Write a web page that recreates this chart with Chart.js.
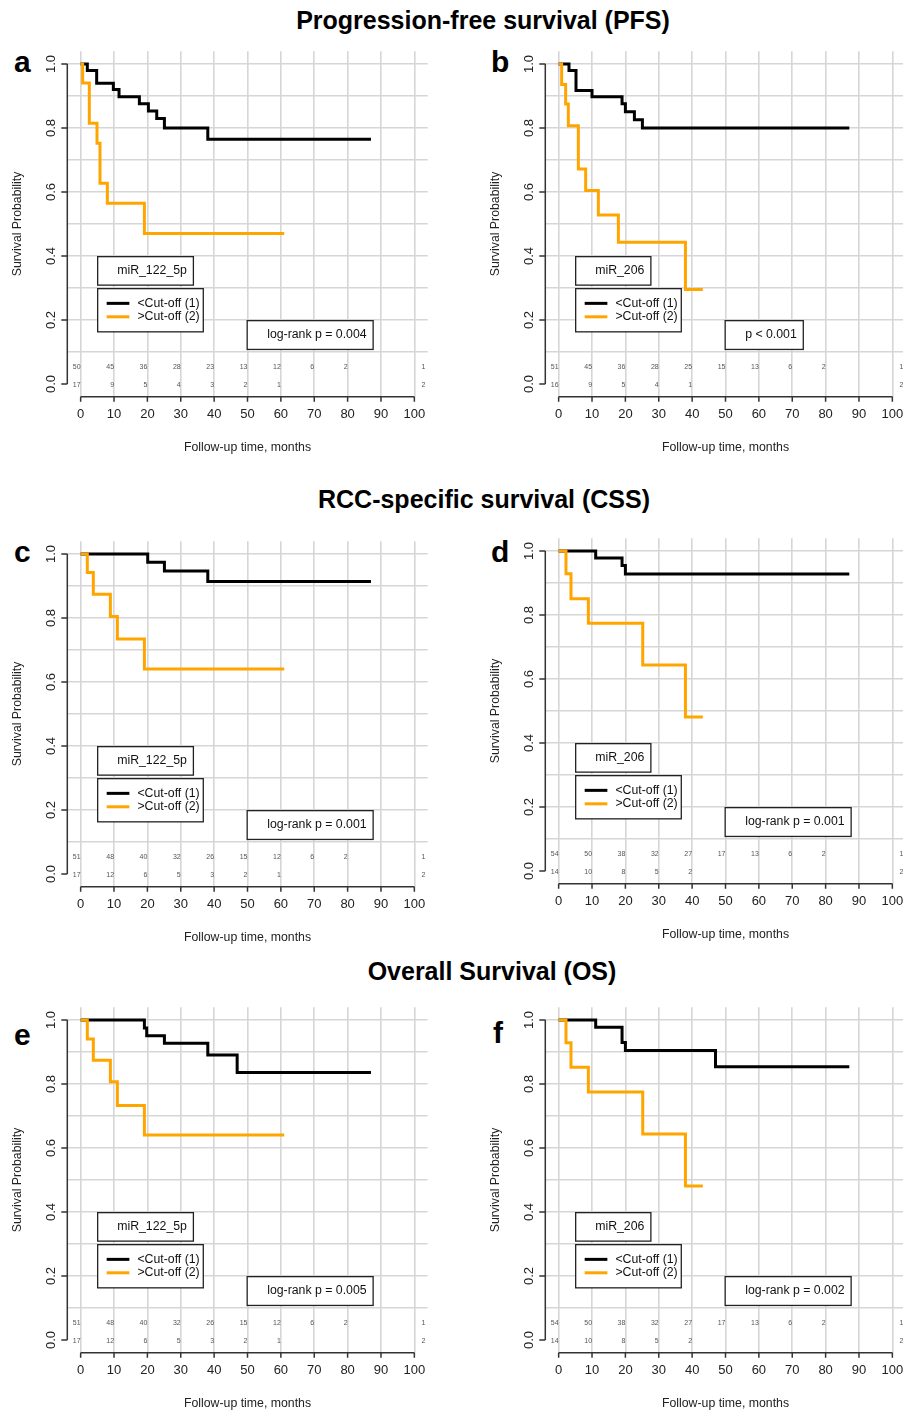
<!DOCTYPE html>
<html>
<head>
<meta charset="utf-8">
<script src="https://cdn.jsdelivr.net/npm/chart.js@4.4.1/dist/chart.umd.min.js"></script>
<style>
html, body { margin: 0; padding: 0; width: 903px; height: 1411px; overflow: hidden; background: #fff; }
body { position: relative; font-family: "Liberation Sans", Arial, sans-serif; color: #000; }
canvas { position: absolute; }
.title { position: absolute; font-weight: bold; font-size: 25px; line-height: 25px; white-space: nowrap; transform: translateX(-50%); }
.tag { position: absolute; font-weight: bold; font-size: 30px; line-height: 30px; }
</style>
</head>
<body>
<div class="title" style="left:483px; top:7.5px">Progression-free survival (PFS)</div>
<div class="title" style="left:484px; top:487px">RCC-specific survival (CSS)</div>
<div class="title" style="left:492px; top:959px">Overall Survival (OS)</div>

<div class="tag" style="left:14px; top:47px">a</div>
<div class="tag" style="left:491px; top:47px">b</div>
<div class="tag" style="left:14px; top:537px">c</div>
<div class="tag" style="left:491px; top:537px">d</div>
<div class="tag" style="left:14px; top:1020px">e</div>
<div class="tag" style="left:493px; top:1018px">f</div>

<canvas id="chartA" width="470" height="430" style="left:0px; top:40px"></canvas>
<canvas id="chartB" width="470" height="430" style="left:478px; top:40px"></canvas>
<canvas id="chartC" width="470" height="430" style="left:0px; top:530px"></canvas>
<canvas id="chartD" width="470" height="430" style="left:478px; top:527px"></canvas>
<canvas id="chartE" width="470" height="430" style="left:0px; top:996px"></canvas>
<canvas id="chartF" width="470" height="430" style="left:478px; top:996px"></canvas>

<script>
// ---- values ----
const xTicks = [0, 10, 20, 30, 40, 50, 60, 70, 80, 90, 100];
const yTicks = [0, 0.2, 0.4, 0.6, 0.8, 1.0];
const yGrid = [0.1, 0.2, 0.3, 0.4, 0.5, 0.6, 0.7, 0.8, 0.9, 1.0];
const riskTimes = [0, 10, 20, 30, 40, 50, 60, 70, 80, 90, 103.3];

// a: PFS, miR_122_5p
const aLowT = [0, 2, 4.8, 9.8, 11.5, 17.6, 20.3, 22.8, 25.1, 38.1, 87];
const aLowS = [1, 0.98, 0.94, 0.92, 0.898, 0.876, 0.853, 0.83, 0.8, 0.765, 0.765];
const aHighT = [0, 0.6, 2.6, 4.9, 5.8, 8, 19.1, 61];
const aHighS = [1, 0.941, 0.815, 0.752, 0.627, 0.565, 0.47, 0.47];
const aRiskLow = [50, 45, 36, 28, 23, 13, 12, 6, 2, null, 1];
const aRiskHigh = [17, 9, 5, 4, 3, 2, 1, null, null, null, 2];

// b: PFS, miR_206
const bLowT = [0, 3.1, 5.2, 10, 19, 20, 22.7, 25.1, 87.1];
const bLowS = [1, 0.98, 0.917, 0.898, 0.876, 0.851, 0.826, 0.8, 0.8];
const bHighT = [0, 0.9, 2.1, 2.9, 5.9, 8.1, 11.9, 17.9, 38, 43.2];
const bHighS = [1, 0.936, 0.875, 0.807, 0.672, 0.605, 0.528, 0.443, 0.295, 0.295];
const bRiskLow = [51, 45, 36, 28, 25, 15, 13, 6, 2, null, 1];
const bRiskHigh = [16, 9, 5, 4, 1, null, null, null, null, null, 2];

// c: CSS, miR_122_5p
const cLowT = [0, 20.1, 25.1, 38.1, 87];
const cLowS = [1, 0.974, 0.947, 0.914, 0.914];
const cHighT = [0, 2, 3.8, 8.9, 11, 19.1, 61];
const cHighS = [1, 0.942, 0.874, 0.805, 0.734, 0.641, 0.641];
const cRiskLow = [51, 48, 40, 32, 26, 15, 12, 6, 2, null, 1];
const cRiskHigh = [17, 12, 6, 5, 3, 2, 1, null, null, null, 2];

// d: CSS, miR_206
const dLowT = [0, 11.1, 19, 20, 87.1];
const dLowS = [1, 0.978, 0.955, 0.928, 0.928];
const dHighT = [0, 2.2, 3.7, 8.9, 25.2, 38, 43.2];
const dHighS = [1, 0.929, 0.851, 0.774, 0.644, 0.481, 0.481];
const dRiskLow = [54, 50, 38, 32, 27, 17, 13, 6, 2, null, 1];
const dRiskHigh = [14, 10, 8, 5, 2, null, null, null, null, null, 2];

// e: OS, miR_122_5p
const eLowT = [0, 19.1, 19.8, 25.1, 38.1, 46.9, 87];
const eLowS = [1, 0.975, 0.951, 0.927, 0.891, 0.836, 0.836];
const eHighT = [0, 2, 3.8, 8.9, 11, 19.1, 61];
const eHighS = [1, 0.941, 0.874, 0.807, 0.733, 0.641, 0.641];
const eRiskLow = [51, 48, 40, 32, 26, 15, 12, 6, 2, null, 1];
const eRiskHigh = [17, 12, 6, 5, 3, 2, 1, null, null, null, 2];

// f: OS, miR_206
const fLowT = [0, 11.1, 19, 20, 47, 87.1];
const fLowS = [1, 0.977, 0.93, 0.905, 0.854, 0.854];
const fHighT = [0, 2.2, 3.7, 8.9, 25.2, 38, 43.2];
const fHighS = [1, 0.929, 0.852, 0.775, 0.644, 0.481, 0.481];
const fRiskLow = [54, 50, 38, 32, 27, 17, 13, 6, 2, null, 1];
const fRiskHigh = [14, 10, 8, 5, 2, null, null, null, null, null, 2];

const groupLabels = ['<Cut-off (1)', '>Cut-off (2)'];
const LOW_COLOR = '#000000';
const HIGH_COLOR = '#FFA500';
const FONT = '"Liberation Sans", Arial, sans-serif';

const panels = [
    { id: 'chartA', marker: 'miR_122_5p', pText: 'log-rank p = 0.004', lowT: aLowT, lowS: aLowS, highT: aHighT, highS: aHighS, riskLow: aRiskLow, riskHigh: aRiskHigh },
    { id: 'chartB', marker: 'miR_206', pText: 'p < 0.001', lowT: bLowT, lowS: bLowS, highT: bHighT, highS: bHighS, riskLow: bRiskLow, riskHigh: bRiskHigh },
    { id: 'chartC', marker: 'miR_122_5p', pText: 'log-rank p = 0.001', lowT: cLowT, lowS: cLowS, highT: cHighT, highS: cHighS, riskLow: cRiskLow, riskHigh: cRiskHigh },
    { id: 'chartD', marker: 'miR_206', pText: 'log-rank p = 0.001', lowT: dLowT, lowS: dLowS, highT: dHighT, highS: dHighS, riskLow: dRiskLow, riskHigh: dRiskHigh },
    { id: 'chartE', marker: 'miR_122_5p', pText: 'log-rank p = 0.005', lowT: eLowT, lowS: eLowS, highT: eHighT, highS: eHighS, riskLow: eRiskLow, riskHigh: eRiskHigh },
    { id: 'chartF', marker: 'miR_206', pText: 'log-rank p = 0.002', lowT: fLowT, lowS: fLowS, highT: fHighT, highS: fHighS, riskLow: fRiskLow, riskHigh: fRiskHigh }
];

function toPoints(times, surv) {
    return times.map((t, i) => ({ x: t, y: surv[i] }));
}

function drawBox(ctx, l, t, r, b) {
    ctx.fillStyle = '#fff';
    ctx.fillRect(l, t, r - l, b - t);
    ctx.strokeStyle = '#222';
    ctx.lineWidth = 1.3;
    ctx.strokeRect(l, t, r - l, b - t);
}

// R-style axes, legend boxes and the numbers-at-risk table
function makeDecor(p) {
    return {
        id: 'kmDecor',
        afterDraw(chart) {
            const ctx = chart.ctx;
            const area = chart.chartArea;
            const X = v => chart.scales.x.getPixelForValue(v);
            const Y = v => chart.scales.y.getPixelForValue(v);
            ctx.save();

            // axes
            ctx.strokeStyle = '#333';
            ctx.lineWidth = 1.5;
            ctx.beginPath();
            ctx.moveTo(area.left, Y(0));
            ctx.lineTo(area.left, Y(1));
            yTicks.forEach(v => { ctx.moveTo(area.left, Y(v)); ctx.lineTo(area.left - 6, Y(v)); });
            ctx.moveTo(X(0), area.bottom);
            ctx.lineTo(X(100), area.bottom);
            xTicks.forEach(v => { ctx.moveTo(X(v), area.bottom); ctx.lineTo(X(v), area.bottom + 5); });
            ctx.stroke();

            // tick labels
            ctx.fillStyle = '#222';
            ctx.font = '13px ' + FONT;
            ctx.textAlign = 'center';
            ctx.textBaseline = 'middle';
            xTicks.forEach(v => ctx.fillText(String(v), X(v), area.bottom + 18));
            yTicks.forEach(v => {
                ctx.save();
                ctx.translate(area.left - 16, Y(v));
                ctx.rotate(-Math.PI / 2);
                ctx.fillText(v.toFixed(1), 0, 0);
                ctx.restore();
            });

            // axis titles
            ctx.font = '12.3px ' + FONT;
            ctx.fillText('Follow-up time, months', X(50), area.bottom + 51);
            ctx.save();
            ctx.translate(area.left - 50, Y(0.5));
            ctx.rotate(-Math.PI / 2);
            ctx.fillText('Survival Probability', 0, 0);
            ctx.restore();

            // marker name box
            ctx.textAlign = 'left';
            let l = X(5.1), t = Y(0.398), b = Y(0.309);
            let w = ctx.measureText(p.marker).width;
            drawBox(ctx, l, t, l + w + 26, b);
            ctx.fillStyle = '#111';
            ctx.fillText(p.marker, l + 19.5, (t + b) / 2);

            // group legend
            drawBox(ctx, X(5.1), Y(0.298), X(36.75), Y(0.163));
            [[0.252, LOW_COLOR], [0.21, HIGH_COLOR]].forEach(([v, c], i) => {
                ctx.strokeStyle = c;
                ctx.lineWidth = 3;
                ctx.beginPath();
                ctx.moveTo(X(7.8), Y(v));
                ctx.lineTo(X(14.6), Y(v));
                ctx.stroke();
                ctx.fillStyle = '#111';
                ctx.fillText(groupLabels[i], X(17), Y(v));
            });

            // p-value box
            l = X(49.9); t = Y(0.198); b = Y(0.108);
            w = ctx.measureText(p.pText).width;
            drawBox(ctx, l, t, l + w + 26.5, b);
            ctx.fillStyle = '#111';
            ctx.fillText(p.pText, l + 20, (t + b) / 2);

            // numbers at risk
            ctx.font = '7px ' + FONT;
            ctx.fillStyle = '#555';
            ctx.textAlign = 'right';
            riskTimes.forEach((tm, i) => {
                if (p.riskLow[i] != null) ctx.fillText(String(p.riskLow[i]), X(tm), Y(0.052));
                if (p.riskHigh[i] != null) ctx.fillText(String(p.riskHigh[i]), X(tm), Y(-0.004));
            });

            ctx.restore();
        }
    };
}

function buildChart(p) {
    return new Chart(document.getElementById(p.id), {
        type: 'line',
        data: {
            datasets: [
                { label: groupLabels[0], data: toPoints(p.lowT, p.lowS), borderColor: LOW_COLOR, borderWidth: 3, stepped: 'before', pointRadius: 0, fill: false, order: 1 },
                { label: groupLabels[1], data: toPoints(p.highT, p.highS), borderColor: HIGH_COLOR, borderWidth: 3, stepped: 'before', pointRadius: 0, fill: false, order: 0 }
            ]
        },
        options: {
            responsive: false,
            maintainAspectRatio: false,
            animation: false,
            devicePixelRatio: 1,
            layout: { padding: { left: 67.3, top: 11.2, right: 42.3, bottom: 73.2 } },
            plugins: { legend: { display: false }, tooltip: { enabled: false } },
            scales: {
                x: {
                    type: 'linear', min: -4, max: 104,
                    afterBuildTicks: s => { s.ticks = xTicks.map(v => ({ value: v })); },
                    ticks: { display: false },
                    grid: { color: '#d6d6d6', lineWidth: 1.6, drawTicks: false },
                    border: { display: false }
                },
                y: {
                    type: 'linear', min: -0.04, max: 1.04,
                    afterBuildTicks: s => { s.ticks = yGrid.map(v => ({ value: v })); },
                    ticks: { display: false },
                    grid: { color: '#d6d6d6', lineWidth: 1.6, drawTicks: false },
                    border: { display: false }
                }
            }
        },
        plugins: [makeDecor(p)]
    });
}

panels.forEach(buildChart);
</script>
</body>
</html>
